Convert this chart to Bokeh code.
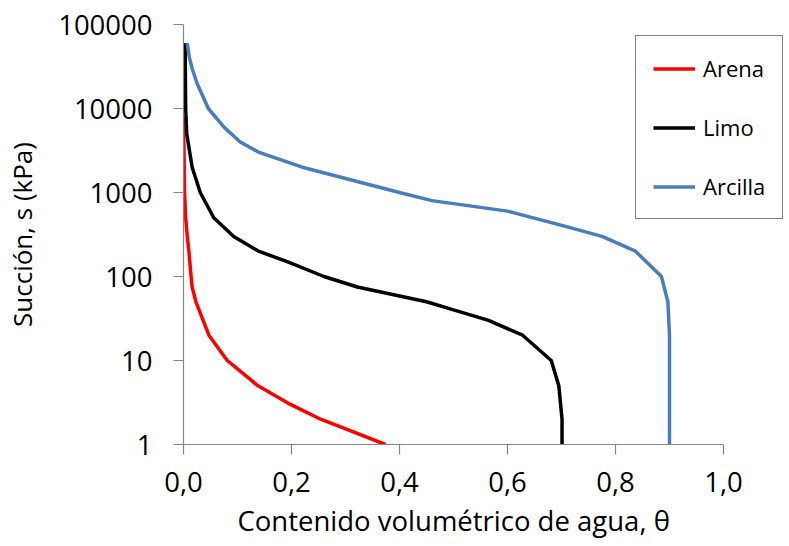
from bokeh.plotting import figure
from bokeh.models import Legend, LegendItem, FixedTicker, CustomJSTickFormatter, Range1d, Title
from bokeh.embed import file_html
from bokeh.resources import INLINE

# Soil-water retention curves: suction (kPa) vs volumetric water content
arena_theta = [0.000, 0.001, 0.002, 0.004, 0.007, 0.010, 0.014, 0.016, 0.023, 0.047, 0.081, 0.138, 0.198, 0.254, 0.374]
arena_s = [8000, 3000, 1000, 500, 300, 200, 100, 75, 50, 20, 10, 5, 3, 2, 1]

limo_theta = [0.003, 0.004, 0.006, 0.016, 0.031, 0.056, 0.093, 0.139, 0.192, 0.260, 0.322,
              0.450, 0.500, 0.565, 0.628, 0.681, 0.695, 0.701, 0.701]
limo_s = [60000, 10000, 5000, 2000, 1000, 500, 300, 200, 150, 100, 75,
          50, 40, 30, 20, 10, 5, 2, 1]

arcilla_theta = [0.007, 0.011, 0.016, 0.025, 0.046, 0.075, 0.105, 0.140, 0.220, 0.400, 0.460,
                 0.600, 0.704, 0.775, 0.837, 0.885, 0.897, 0.900, 0.900, 0.900]
arcilla_s = [60000, 40000, 30000, 20000, 10000, 6000, 4000, 3000, 2000, 1000, 800,
             600, 400, 300, 200, 100, 50, 20, 10, 1]

x_ticks = [0.0, 0.2, 0.4, 0.6, 0.8, 1.0]
y_ticks = [1, 10, 100, 1000, 10000, 100000]

FONT = "Open Sans"
AXIS_GREY = "#868686"

# The frame runs to the right edge so the legend box is not clipped;
# the x range is widened so that theta = 1.0 still sits where the axis ends.
LEFT, RIGHT_EDGE, X_END_PX = 183, 789, 723
x_end = (RIGHT_EDGE - LEFT) / (X_END_PX - LEFT)

p = figure(width=789, height=546, y_axis_type="log",
           x_range=Range1d(0, x_end), y_range=Range1d(1, 100000),
           output_backend="svg", toolbar_location=None,
           min_border_left=LEFT, min_border_right=0,
           min_border_top=24, min_border_bottom=102)

p.outline_line_color = None
p.xgrid.visible = False
p.ygrid.visible = False
p.background_fill_color = "white"
p.border_fill_color = "white"

r_arena = p.line(arena_theta, arena_s, line_color="#FF0000", line_width=3.5)
r_limo = p.line(limo_theta, limo_s, line_color="#000000", line_width=3.5)
r_arcilla = p.line(arcilla_theta, arcilla_s, line_color="#4A7EBB", line_width=3.5)

for ax in (p.xaxis[0], p.yaxis[0]):
    ax.axis_line_color = AXIS_GREY
    ax.axis_line_width = 1.2
    ax.major_tick_line_color = AXIS_GREY
    ax.major_tick_line_width = 1.2
    ax.major_tick_out = 10
    ax.major_tick_in = 0
    ax.minor_tick_line_color = None
    ax.major_label_text_font = FONT
    ax.major_label_text_font_size = "27.5px"
    ax.major_label_text_color = "#000000"
    ax.axis_label_text_font = FONT
    ax.axis_label_text_font_style = "normal"
    ax.axis_label_text_color = "#000000"

p.xaxis.bounds = (0, 1)
p.xaxis.ticker = FixedTicker(ticks=x_ticks, minor_ticks=[])
p.yaxis.ticker = FixedTicker(ticks=y_ticks, minor_ticks=[])
p.xaxis.formatter = CustomJSTickFormatter(code="return tick.toFixed(1).replace('.', ',');")
p.yaxis.formatter = CustomJSTickFormatter(code="return tick.toFixed(0);")
p.xaxis.major_label_standoff = 17
p.yaxis.major_label_standoff = 21

p.yaxis.axis_label = "Succión, s (kPa)"
p.yaxis.axis_label_text_font_size = "26px"
p.yaxis.axis_label_standoff = 15

# x-axis title, left-aligned so it stays centred under the 0..1 span
x_title = Title(text="Contenido volumétrico de agua, θ", align="left", offset=54,
                standoff=11, vertical_align="bottom",
                text_font=FONT, text_font_size="27.5px", text_font_style="normal",
                text_color="#000000")
p.add_layout(x_title, "below")

legend = Legend(items=[LegendItem(label="Arena", renderers=[r_arena]),
                       LegendItem(label="Limo", renderers=[r_limo]),
                       LegendItem(label="Arcilla", renderers=[r_arcilla])],
                location=(452, 225),
                padding=17, spacing=29,
                glyph_width=42, glyph_height=25, label_height=25,
                label_standoff=8,
                label_text_font=FONT, label_text_font_size="22px",
                label_text_color="#000000",
                border_line_color="#000000", border_line_width=1,
                background_fill_color="white", background_fill_alpha=1.0,
                margin=0)
p.add_layout(legend, "center")

open("out.html", "w").write(file_html(p, INLINE))
